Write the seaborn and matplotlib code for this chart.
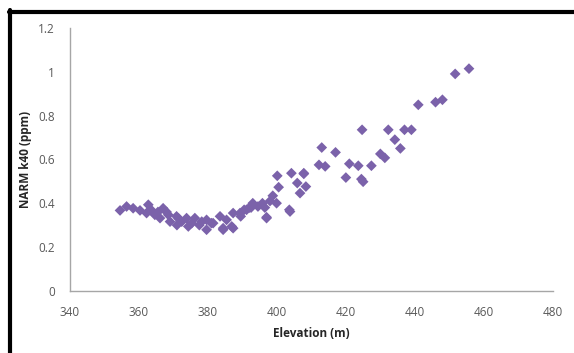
import numpy as np
import pandas as pd
import matplotlib
matplotlib.use("Agg")
import matplotlib.pyplot as plt
import seaborn as sns
from matplotlib.lines import Line2D

# values
elevation = [
    354.5, 356.4, 358.3, 360.3, 362.7, 362.2, 364.6, 367.0, 366.1, 368.5,
    369.0, 370.9, 372.4, 373.8, 375.3, 376.2, 378.2, 379.6, 381.0, 374.3,
    379.6, 384.4, 387.3, 371.0, 381.5, 383.5, 385.4, 387.3, 389.3, 391.2,
    393.0, 395.8, 397.0, 386.9, 384.4, 397.0, 398.8, 399.9, 400.5, 400.1,
    403.6, 403.8, 404.2, 405.9, 406.7, 407.8, 408.4, 407.8, 412.2, 413.0,
    414.0, 417.0, 420.0, 421.0, 423.6, 424.5, 425.0, 424.7, 427.4, 430.0,
    431.3, 432.3, 434.2, 435.8, 437.0, 439.0, 441.0, 446.0, 448.0, 451.7,
    455.7, 392.0, 394.5, 389.5, 377.5, 365.5, 390.5, 392.5, 396.5, 398.0,
    363.5, 368.0, 371.5,
]
narm_k40 = [
    0.367, 0.385, 0.377, 0.367, 0.393, 0.355, 0.347, 0.377, 0.332, 0.347,
    0.316, 0.340, 0.316, 0.332, 0.309, 0.332, 0.316, 0.324, 0.309, 0.294,
    0.279, 0.279, 0.286, 0.300, 0.309, 0.340, 0.324, 0.355, 0.355, 0.370,
    0.400, 0.400, 0.336, 0.294, 0.286, 0.332, 0.434, 0.400, 0.473, 0.525,
    0.370, 0.362, 0.537, 0.492, 0.446, 0.537, 0.476, 0.534, 0.575, 0.654,
    0.568, 0.632, 0.517, 0.580, 0.571, 0.510, 0.498, 0.735, 0.571, 0.625,
    0.607, 0.735, 0.690, 0.650, 0.735, 0.735, 0.849, 0.861, 0.872, 0.990,
    1.014, 0.380, 0.385, 0.340, 0.300, 0.360, 0.370, 0.380, 0.380, 0.410,
    0.370, 0.360, 0.330,
]
x_ticks = [340, 360, 380, 400, 420, 440, 460, 480]
y_ticks = [0, 0.2, 0.4, 0.6, 0.8, 1.0, 1.2]
y_tick_labels = ["0", "0.2", "0.4", "0.6", "0.8", "1", "1.2"]

df = pd.DataFrame({"Elevation (m)": elevation, "NARM k40 (ppm)": narm_k40})

sns.set_style("white")
plt.rcParams["font.family"] = ["Open Sans", "DejaVu Sans"]

fig = plt.figure(figsize=(5.74, 3.53), dpi=100)
ax = fig.add_axes([0.122, 0.176, 0.841, 0.745])

sns.scatterplot(data=df, x="Elevation (m)", y="NARM k40 (ppm)", ax=ax,
                marker="D", s=30, color="#7B62AA", edgecolor="none", linewidth=0)

ax.set_xlim(340, 480)
ax.set_ylim(0, 1.2)
ax.set_xticks(x_ticks)
ax.set_yticks(y_ticks)
ax.set_yticklabels(y_tick_labels)
ax.tick_params(length=0, labelsize=8.5, labelcolor="#595959", pad=11)

for side in ["top", "right"]:
    ax.spines[side].set_visible(False)
for side in ["left", "bottom"]:
    ax.spines[side].set_color("#A6A6A6")
    ax.spines[side].set_linewidth(1)

ax.set_xlabel("Elevation (m)", fontsize=8.5, fontweight="bold", color="#262626", labelpad=6)
ax.set_ylabel("NARM k40 (ppm)", fontsize=8.5, fontweight="bold", color="#262626", labelpad=4)

# thick frame on the left and top, as in the screenshot
fig.add_artist(Line2D([10 / 574, 10 / 574], [0, 1 - 10 / 353], color="black", lw=3,
                      transform=fig.transFigure))
fig.add_artist(Line2D([8.5 / 574, 1], [1 - 11.5 / 353, 1 - 11.5 / 353], color="black", lw=3,
                      transform=fig.transFigure))

fig.savefig("out.png", dpi=100)
